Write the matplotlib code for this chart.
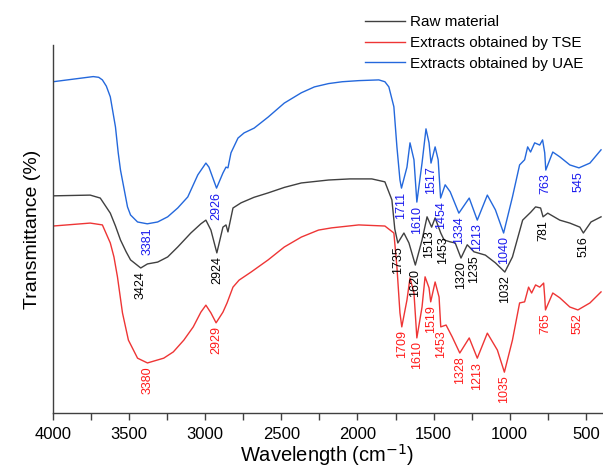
import matplotlib
matplotlib.use('Agg')
import matplotlib.pyplot as plt
import numpy as np

plt.rcParams['font.family'] = ['Liberation Sans', 'DejaVu Sans']

# FTIR spectra: wavenumber (cm-1) and transmittance (arb. units)
raw_wn = [4000, 3756, 3690, 3624, 3590, 3557, 3520, 3491, 3424, 3380, 3313, 3247,
          3181, 3095, 3029, 2996, 2963, 2924, 2884, 2864, 2851, 2818, 2765, 2680,
          2587, 2480, 2369, 2190, 2050, 1906, 1820, 1774, 1755, 1735, 1695, 1662,
          1620, 1576, 1543, 1513, 1490, 1453, 1431, 1391, 1358, 1320, 1279, 1235,
          1160, 1094, 1032, 982, 915, 863, 830, 797, 781, 750, 671, 605, 539, 516,
          466, 400]
raw_t = [59.0, 59.2, 58.4, 54.3, 50.8, 47.0, 43.8, 41.6, 39.4, 40.5, 41.0, 42.4,
         45.1, 48.9, 51.4, 52.4, 49.7, 43.5, 50.5, 51.1, 49.2, 55.7, 57.1, 58.6,
         59.8, 61.3, 62.5, 63.3, 63.6, 63.6, 62.8, 57.9, 50.0, 46.2, 48.9, 46.2,
         40.2, 47.0, 53.3, 50.5, 53.0, 48.9, 47.0, 46.5, 46.2, 42.1, 45.7, 43.8,
         42.9, 40.8, 38.3, 42.4, 52.4, 54.5, 56.0, 55.7, 53.3, 54.3, 52.4, 51.6,
         50.5, 48.9, 51.9, 53.3]

tse_wn = [4000, 3756, 3676, 3624, 3600, 3577, 3544, 3505, 3445, 3380, 3273, 3210,
          3141, 3079, 3029, 2996, 2963, 2929, 2884, 2857, 2818, 2778, 2699, 2587,
          2481, 2369, 2256, 2170, 1992, 1820, 1761, 1741, 1721, 1709, 1675, 1655,
          1629, 1610, 1576, 1556, 1530, 1519, 1490, 1464, 1453, 1418, 1378, 1328,
          1266, 1213, 1147, 1081, 1035, 982, 935, 902, 876, 856, 830, 803, 777,
          770, 765, 717, 671, 605, 552, 473, 400]
tse_t = [50.8, 51.6, 51.1, 46.2, 42.4, 37.0, 27.2, 19.8, 14.9, 13.6, 14.9, 16.6,
         19.8, 23.4, 27.4, 29.3, 27.2, 24.5, 27.4, 29.9, 34.2, 36.1, 38.3, 41.6,
         45.1, 47.8, 49.7, 50.3, 51.1, 50.8, 48.9, 39.7, 27.2, 23.4, 30.7, 36.7,
         32.6, 20.4, 28.8, 37.0, 34.0, 30.2, 35.6, 31.5, 23.4, 23.9, 20.7, 16.3,
         20.4, 14.9, 21.7, 17.1, 11.1, 19.8, 29.9, 30.2, 34.2, 32.6, 34.8, 34.2,
         35.3, 31.5, 28.0, 32.6, 31.3, 28.8, 28.0, 29.9, 32.9]

uae_wn = [4000, 3736, 3700, 3676, 3650, 3624, 3590, 3572, 3557, 3511, 3491, 3445,
          3381, 3313, 3247, 3181, 3115, 3049, 2996, 2976, 2926, 2884, 2864, 2851,
          2831, 2785, 2745, 2679, 2587, 2481, 2369, 2283, 2190, 2100, 1992, 1860,
          1820, 1794, 1761, 1741, 1721, 1711, 1675, 1655, 1629, 1610, 1576, 1550,
          1530, 1517, 1490, 1470, 1454, 1424, 1391, 1334, 1266, 1213, 1147, 1094,
          1040, 982, 935, 902, 882, 863, 836, 803, 784, 770, 763, 717, 671, 605,
          545, 473, 400]
uae_t = [90.0, 91.4, 91.2, 90.5, 88.8, 85.9, 77.7, 70.7, 66.0, 56.0, 53.8, 51.9,
         51.4, 51.9, 53.3, 55.7, 58.7, 64.7, 67.9, 66.8, 61.1, 65.2, 66.8, 66.6,
         70.7, 74.7, 76.1, 77.4, 80.4, 84.2, 87.0, 88.6, 89.5, 90.0, 90.3, 90.5,
         90.0, 88.6, 83.2, 72.3, 63.3, 61.1, 66.8, 73.4, 68.8, 57.3, 67.9, 77.2,
         73.4, 67.9, 72.3, 68.8, 58.4, 62.0, 60.1, 54.3, 58.4, 52.4, 59.2, 55.2,
         48.9, 58.7, 67.4, 68.8, 72.3, 70.9, 73.4, 72.8, 74.2, 70.7, 66.0, 70.9,
         69.6, 67.4, 66.6, 67.9, 71.5]

raw_peaks = [3424, 2924, 1735, 1620, 1513, 1453, 1320, 1235, 1032, 781, 516]
tse_peaks = [3380, 2929, 1709, 1610, 1519, 1453, 1328, 1213, 1035, 765, 552]
uae_peaks = [3381, 2926, 1711, 1610, 1517, 1454, 1334, 1213, 1040, 763, 545]

# small sideways nudges (points) for crowded black labels
raw_nudge = {1513: -2.0, 1453: 1.5}

series = [
    ('Raw material', raw_wn, raw_t, raw_peaks, '#404040', 'black', raw_nudge),
    ('Extracts obtained by TSE', tse_wn, tse_t, tse_peaks, '#ee3535', '#ff1a1a', {}),
    ('Extracts obtained by UAE', uae_wn, uae_t, uae_peaks, '#2468dc', '#1a1aee', {}),
]

fig = plt.figure(figsize=(6.03, 4.68), dpi=100)
ax = fig.add_axes([0.088, 0.1175, 0.91, 0.7865])

for label, wn, t, peaks, col, tcol, nudge in series:
    ax.plot(wn, t, color=col, lw=1.0, label=label)
    wn_a = np.array(wn)[::-1]
    t_a = np.array(t)[::-1]
    for p in peaks:
        y = np.interp(p, wn_a, t_a)
        ax.annotate(str(p), (p, y), xytext=(nudge.get(p, 0), -2.5),
                    textcoords='offset points', rotation=90, ha='center',
                    va='top', fontsize=9, color=tcol)

ax.set_xlim(4000, 395)
ax.set_ylim(0, 100)
ax.set_xticks(np.arange(4000, 499, -500))
ax.set_xticks(np.arange(3750, 399, -500), minor=True)
ax.set_yticks([])
ax.tick_params(axis='x', which='both', direction='out', length=5, width=1,
               color='#404040', labelsize=12, pad=5)
for s in ['top', 'right']:
    ax.spines[s].set_visible(False)
for s in ['left', 'bottom']:
    ax.spines[s].set_color('#404040')
    ax.spines[s].set_linewidth(1.0)

ax.set_xlabel('Wavelength (cm$^{-1}$)', fontsize=14.5, labelpad=0)
ax.set_ylabel('Transmittance (%)', fontsize=14, labelpad=9)

fig.legend(loc='upper left', bbox_to_anchor=(365 / 603, 1 - 15 / 468),
           frameon=False, fontsize=11, handlelength=2.6, handletextpad=0.35,
           labelspacing=0.45, borderpad=0, borderaxespad=0)

fig.savefig('out.png', dpi=100, facecolor='white')
